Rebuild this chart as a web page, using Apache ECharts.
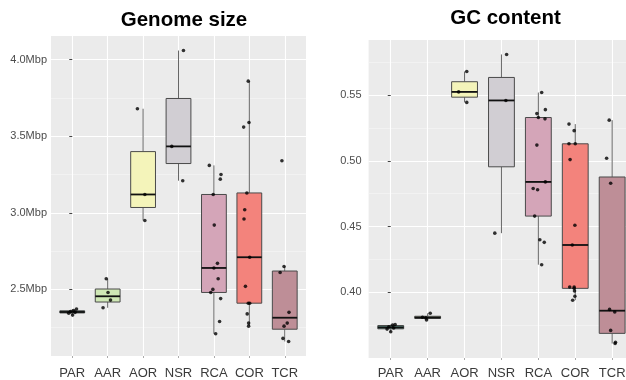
<!DOCTYPE html>
<html><head><meta charset="utf-8">
<script src="https://cdn.jsdelivr.net/npm/echarts@6/dist/echarts.min.js"></script>
<style>html,body{margin:0;padding:0;background:#fff}#c{width:626px;height:380px}</style>
</head><body><div id="c"></div>
<script>
const categories = ['PAR','AAR','AOR','NSR','RCA','COR','TCR'];
const boxFills = ['#66A093','#CFE8B5','#F4F4BA','#D1CED3','#D4A5B8','#F3837C','#BE8E97'];
const genomeTicks = [2.5, 3.0, 3.5, 4.0];
const gcTicks = [0.40, 0.45, 0.50, 0.55];

// Genome size (Mbp), one list per category
const genomeValues = [
  [2.372, 2.362, 2.355, 2.350, 2.345, 2.332],
  [2.57, 2.48, 2.43, 2.38],
  [3.68, 3.12, 2.95],
  [4.06, 3.434, 3.21],
  [3.31, 3.25, 3.22, 3.12, 2.92, 2.67, 2.64, 2.57, 2.50, 2.48, 2.44, 2.29, 2.21],
  [3.86, 3.59, 3.56, 3.13, 3.02, 2.96, 2.71, 2.52, 2.41, 2.41, 2.34, 2.28, 2.26],
  [3.34, 2.65, 2.61, 2.35, 2.28, 2.26, 2.18, 2.16]
];
// horizontal jitter of each point (category units)
const genomeJitter = [
  [0.12, 0.04, -0.05, 0.08, -0.10, 0.01],
  [-0.04, 0.01, 0.08, -0.13],
  [-0.16, 0.05, 0.05],
  [0.14, -0.19, 0.12],
  [-0.13, 0.20, 0.18, -0.02, 0.01, 0.10, 0.00, 0.12, -0.03, -0.09, 0.19, 0.16, 0.05],
  [-0.03, -0.01, -0.16, -0.07, -0.13, -0.15, 0.01, -0.11, -0.03, 0.01, -0.06, -0.02, -0.02],
  [-0.08, -0.02, -0.13, 0.12, 0.07, -0.02, -0.05, 0.11]
];
// GC content, one list per category
const gcValues = [
  [0.3755, 0.375, 0.3738, 0.3728, 0.372, 0.370],
  [0.384, 0.381, 0.3805, 0.379],
  [0.568, 0.5525, 0.5445],
  [0.581, 0.546, 0.445],
  [0.552, 0.539, 0.536, 0.533, 0.532, 0.512, 0.484, 0.479, 0.478, 0.458, 0.440, 0.438, 0.421],
  [0.528, 0.523, 0.513, 0.513, 0.501, 0.451, 0.436, 0.404, 0.404, 0.403, 0.401, 0.397, 0.394],
  [0.531, 0.502, 0.483, 0.387, 0.385, 0.371, 0.362, 0.361]
];
const gcJitter = [
  [0.12, 0.05, -0.05, 0.08, -0.10, 0.00],
  [0.07, -0.14, -0.05, -0.03],
  [0.06, -0.16, 0.06],
  [0.14, 0.12, -0.18],
  [0.09, 0.19, -0.04, 0.00, 0.18, -0.04, 0.19, -0.14, -0.02, -0.10, 0.04, 0.16, 0.09],
  [-0.17, -0.03, -0.17, 0.00, -0.14, -0.01, -0.08, -0.15, -0.03, -0.03, -0.02, -0.01, -0.07],
  [-0.08, -0.15, -0.04, -0.07, 0.07, -0.04, 0.09, 0.08]
];

function quantile(s, p) {
  const h = (s.length - 1) * p, lo = Math.floor(h);
  const hi = Math.min(lo + 1, s.length - 1);
  return s[lo] + (h - lo) * (s[hi] - s[lo]);
}
function boxStats(lists) {
  return lists.map((vals, i) => {
    const s = vals.slice().sort((a, b) => a - b);
    const q1 = quantile(s, 0.25), med = quantile(s, 0.5), q3 = quantile(s, 0.75);
    const iqr = q3 - q1;
    const lo = s.find(v => v >= q1 - 1.5 * iqr);
    const hi = s.slice().reverse().find(v => v <= q3 + 1.5 * iqr);
    return [i, lo, q1, med, q3, hi];
  });
}
function points(lists, jit) {
  const out = [];
  lists.forEach((vals, i) => vals.forEach((v, k) => out.push([i + jit[i][k], v])));
  return out;
}

const FONT = '"Liberation Sans", Arial, Helvetica, sans-serif';

function renderBox(params, api) {
  const x = api.value(0);
  const pMin = api.coord([x, api.value(1)]);
  const pQ1 = api.coord([x, api.value(2)]);
  const pMed = api.coord([x, api.value(3)]);
  const pQ3 = api.coord([x, api.value(4)]);
  const pMax = api.coord([x, api.value(5)]);
  const w = api.size([0.7, 0])[0];
  const cx = pMed[0];
  const fill = boxFills[params.dataIndex];
  const wl = { stroke: '#666', lineWidth: 1 };
  return {
    type: 'group',
    children: [
      { type: 'line', shape: { x1: cx, y1: pQ3[1], x2: cx, y2: pMax[1] }, style: wl },
      { type: 'line', shape: { x1: cx, y1: pQ1[1], x2: cx, y2: pMin[1] }, style: wl },
      { type: 'rect', shape: { x: cx - w / 2, y: pQ3[1], width: w, height: pQ1[1] - pQ3[1] },
        style: { fill: fill, stroke: '#4a4a4a', lineWidth: 1 } },
      { type: 'line', shape: { x1: cx - w / 2, y1: pMed[1], x2: cx + w / 2, y2: pMed[1] },
        style: { stroke: '#111', lineWidth: 1.8 } }
    ]
  };
}

const catIdx = categories.map((c, i) => i);

function xAxis(g, margin) {
  return {
    type: 'value', gridIndex: g, min: -0.6, max: 6.6, minInterval: 1, maxInterval: 1,
    axisLine: { show: false },
    axisTick: { show: true, length: 2, customValues: catIdx, lineStyle: { color: '#aaa' } },
    axisLabel: { customValues: catIdx, formatter: v => categories[Math.round(v)] || '',
      fontSize: 13, color: '#3a3a3a', margin: margin, fontFamily: FONT },
    splitLine: { show: true, lineStyle: { color: '#ffffff', width: 1.1 } }
  };
}
function yAxis(g, min, max, ticks, step, fmt, margin) {
  return {
    type: 'value', gridIndex: g, min: min, max: max, minInterval: step, maxInterval: step,
    axisLine: { show: false },
    axisTick: { show: true, length: 3, customValues: ticks, lineStyle: { color: '#444' } },
    axisLabel: { customValues: ticks, formatter: fmt, fontSize: 11, color: '#4D4D4D',
      margin: margin, fontFamily: FONT },
    splitLine: { show: true, lineStyle: { color: '#ffffff', width: 1.1 } },
    minorTick: { show: false, splitNumber: 2 },
    minorSplitLine: { show: true, lineStyle: { color: '#F5F5F5', width: 0.7 } }
  };
}

const chart = echarts.init(document.getElementById('c'), null, { renderer: 'canvas' });
chart.setOption({
  animation: false,
  backgroundColor: '#ffffff',
  textStyle: { fontFamily: FONT },
  graphic: [
    { type: 'text', x: 184, y: 20, style: { text: 'Genome size', textAlign: 'center',
      textVerticalAlign: 'middle', fill: '#000', font: 'bold 20.5px ' + FONT } },
    { type: 'text', x: 505.5, y: 18, style: { text: 'GC content', textAlign: 'center',
      textVerticalAlign: 'middle', fill: '#000', font: 'bold 20.5px ' + FONT } }
  ],
  grid: [
    { left: 51, top: 36, width: 255, height: 320, show: true, backgroundColor: '#EBEBEB',
      borderWidth: 0, containLabel: false, outerBoundsMode: 'none' },
    { left: 368.6, top: 40, width: 265.7, height: 318, show: true, backgroundColor: '#EBEBEB',
      borderWidth: 0, containLabel: false, outerBoundsMode: 'none' }
  ],
  xAxis: [xAxis(0, 11), xAxis(1, 9)],
  yAxis: [
    yAxis(0, 2.065, 4.155, genomeTicks, 0.5, v => v.toFixed(1) + 'Mbp', 4),
    yAxis(1, 0.350, 0.592, gcTicks, 0.05, v => v.toFixed(2), 7)
  ],
  series: [
    { type: 'custom', xAxisIndex: 0, yAxisIndex: 0, renderItem: renderBox,
      data: boxStats(genomeValues), encode: { x: 0, y: [1, 2, 3, 4, 5] }, z: 2 },
    { type: 'scatter', xAxisIndex: 0, yAxisIndex: 0, data: points(genomeValues, genomeJitter),
      symbolSize: 3.6, itemStyle: { color: '#000' }, z: 3 },
    { type: 'custom', xAxisIndex: 1, yAxisIndex: 1, renderItem: renderBox,
      data: boxStats(gcValues), encode: { x: 0, y: [1, 2, 3, 4, 5] }, z: 2 },
    { type: 'scatter', xAxisIndex: 1, yAxisIndex: 1, data: points(gcValues, gcJitter),
      symbolSize: 3.6, itemStyle: { color: '#000' }, z: 3 }
  ]
});
</script>
</body></html>
